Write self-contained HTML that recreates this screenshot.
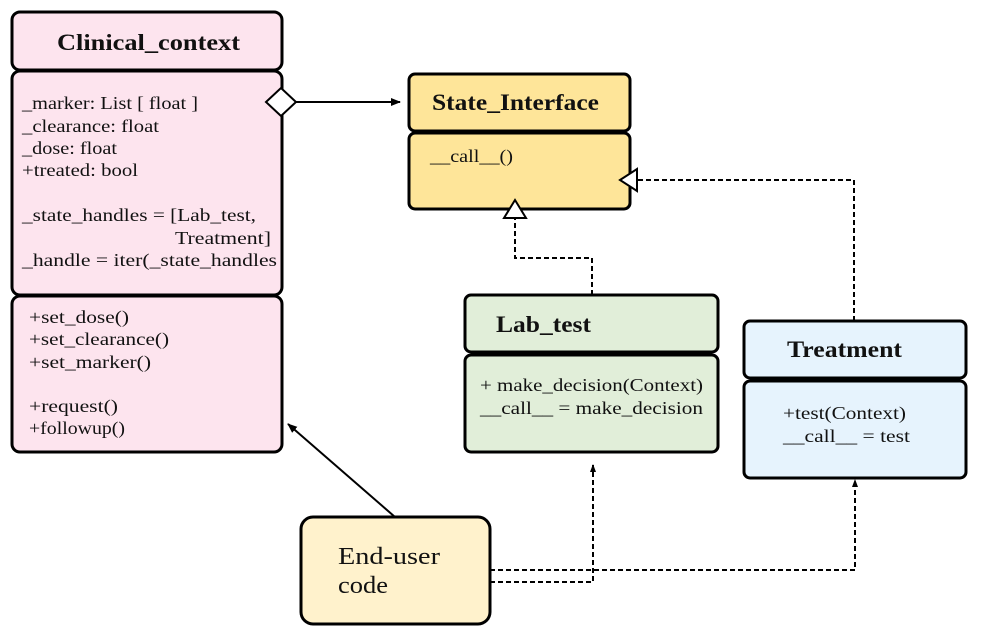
<!DOCTYPE html>
<html><head><style>
body{margin:0;background:#fff;width:986px;height:644px;overflow:hidden}
svg{display:block}
text{font-family:"Liberation Serif",serif;fill:#111}
.t{font-weight:bold;font-size:23px}
.f{font-size:18px}
</style></head><body>
<svg width="986" height="644" viewBox="0 0 986 644">
<defs>
<marker id="a" markerWidth="10" markerHeight="8" refX="9" refY="4" orient="auto" markerUnits="userSpaceOnUse"><path d="M0,0 L10,4 L0,8 z" fill="#000"/></marker>
<marker id="s" markerWidth="8" markerHeight="8" refX="7" refY="4" orient="auto" markerUnits="userSpaceOnUse"><path d="M0,1 L8,4 L0,7 z" fill="#000"/></marker>
</defs>
<g stroke="#000" stroke-width="3">
<rect x="12" y="12" width="270" height="58" rx="8" fill="#fde4ee"/>
<rect x="12" y="71" width="270" height="224" rx="8" fill="#fde4ee"/>
<rect x="12" y="296" width="270" height="156" rx="8" fill="#fde4ee"/>
<rect x="409" y="74" width="221" height="57" rx="6" fill="#fee599"/>
<rect x="409" y="133" width="221" height="76" rx="6" fill="#fee599"/>
<rect x="465" y="295" width="253" height="57" rx="6" fill="#e1eed9"/>
<rect x="465" y="355" width="253" height="97" rx="6" fill="#e1eed9"/>
<rect x="744" y="321" width="222" height="57" rx="6" fill="#e6f3fd"/>
<rect x="744" y="381" width="222" height="97" rx="6" fill="#e6f3fd"/>
<rect x="301" y="517" width="189" height="107" rx="12" fill="#fff2cc"/>
</g>
<g fill="none" stroke="#000" stroke-width="2">
<line x1="296" y1="102" x2="400" y2="102" marker-end="url(#a)"/>
<path d="M395,517 L288,424" marker-end="url(#a)"/>
</g>
<g fill="none" stroke="#000" stroke-width="2" stroke-dasharray="5,3">
<path d="M592,295 L592,258 L515,258 L515,218"/>
<path d="M854,321 L854,180 L637,180"/>
<path d="M490,570 L855,570 L855,480" marker-end="url(#s)"/>
<path d="M490,582 L593,582 L593,465" marker-end="url(#s)"/>
</g>
<path d="M266,102 L281,88 L296,102 L281,116 z" fill="#fff" stroke="#000" stroke-width="2"/>
<path d="M515,200 L526,218 L504,218 z" fill="#fff" stroke="#000" stroke-width="2"/>
<path d="M620,180 L637,169 L637,191 z" fill="#fff" stroke="#000" stroke-width="2"/>
<g lengthAdjust="spacingAndGlyphs">
<text class="t" x="57" y="50" textLength="183" lengthAdjust="spacingAndGlyphs">Clinical_context</text>
<text class="f" x="22" y="109" textLength="176" lengthAdjust="spacingAndGlyphs">_marker: List [ float ]</text>
<text class="f" x="22" y="132" textLength="137" lengthAdjust="spacingAndGlyphs">_clearance: float</text>
<text class="f" x="22" y="154" textLength="95" lengthAdjust="spacingAndGlyphs">_dose: float</text>
<text class="f" x="22" y="176" textLength="116" lengthAdjust="spacingAndGlyphs">+treated: bool</text>
<text class="f" x="22" y="221" textLength="234" lengthAdjust="spacingAndGlyphs">_state_handles = [Lab_test,</text>
<text class="f" x="175" y="244" textLength="96" lengthAdjust="spacingAndGlyphs">Treatment]</text>
<text class="f" x="22" y="266" textLength="255" lengthAdjust="spacingAndGlyphs">_handle = iter(_state_handles</text>
<text class="f" x="29" y="323" textLength="100" lengthAdjust="spacingAndGlyphs">+set_dose()</text>
<text class="f" x="29" y="345" textLength="140" lengthAdjust="spacingAndGlyphs">+set_clearance()</text>
<text class="f" x="29" y="368" textLength="122" lengthAdjust="spacingAndGlyphs">+set_marker()</text>
<text class="f" x="29" y="412" textLength="89" lengthAdjust="spacingAndGlyphs">+request()</text>
<text class="f" x="29" y="434" textLength="96" lengthAdjust="spacingAndGlyphs">+followup()</text>
<text class="t" x="432" y="110" textLength="167" lengthAdjust="spacingAndGlyphs">State_Interface</text>
<text class="f" x="430" y="162" textLength="83" lengthAdjust="spacingAndGlyphs">__call__()</text>
<text class="t" x="496" y="332" textLength="95" lengthAdjust="spacingAndGlyphs">Lab_test</text>
<text class="f" x="480" y="391" textLength="223" lengthAdjust="spacingAndGlyphs">+ make_decision(Context)</text>
<text class="f" x="480" y="414" textLength="223" lengthAdjust="spacingAndGlyphs">__call__ = make_decision</text>
<text class="t" x="787" y="357" textLength="115" lengthAdjust="spacingAndGlyphs">Treatment</text>
<text class="f" x="783" y="419" textLength="123" lengthAdjust="spacingAndGlyphs">+test(Context)</text>
<text class="f" x="783" y="442" textLength="127" lengthAdjust="spacingAndGlyphs">__call__ = test</text>
<text x="338" y="564" style="font-size:24px" textLength="102" lengthAdjust="spacingAndGlyphs">End-user</text>
<text x="338" y="593" style="font-size:24px" textLength="50" lengthAdjust="spacingAndGlyphs">code</text>
</g>
</svg>
</body></html>
